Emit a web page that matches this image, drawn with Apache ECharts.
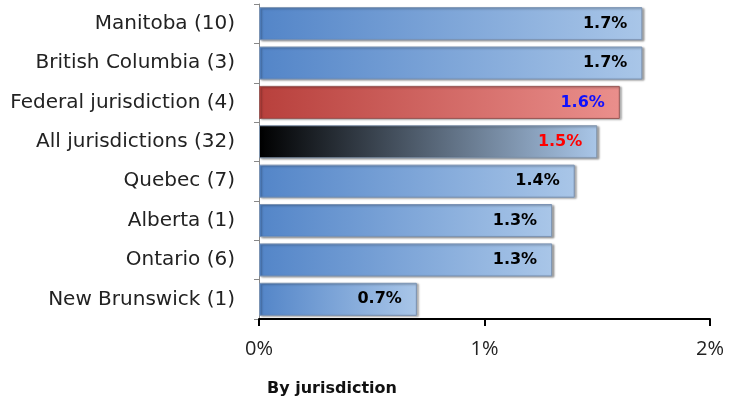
<!DOCTYPE html>
<html>
<head>
<meta charset="utf-8">
<style>
  html, body { margin: 0; padding: 0; background: #fff; }
  #chart { width: 729px; height: 402px; }
</style>
<script src="https://cdn.jsdelivr.net/npm/echarts@6/dist/echarts.min.js"></script>
</head>
<body>
<div id="chart"></div>
<script>
// Jurisdictions, top to bottom, with number of settlements in brackets
const categories = [
  'Manitoba (10)',
  'British Columbia (3)',
  'Federal jurisdiction (4)',
  'All jurisdictions (32)',
  'Quebec (7)',
  'Alberta (1)',
  'Ontario (6)',
  'New Brunswick (1)'
];
// Average increase, percent
const values = [1.7, 1.7, 1.6, 1.5, 1.4, 1.3, 1.3, 0.7];
const xTicks = [0, 1, 2];
const axisTitle = 'By jurisdiction';

function grad(c0, c1) {
  return new echarts.graphic.LinearGradient(0, 0, 1, 0, [
    { offset: 0, color: c0 },
    { offset: 1, color: c1 }
  ]);
}
const styles = {
  'Federal jurisdiction (4)': { fill: grad('#b8403c', '#ea8f8c'), border: '#9a5a58', label: '#1010ff' },
  'All jurisdictions (32)': { fill: grad('#000000', '#a9c6e8'), border: '#7f93ab', label: '#ff0000' }
};
const defaultStyle = { fill: grad('#5385c8', '#a9c6e8'), border: '#7b93b3', label: '#000000' };

const data = categories.map((c, i) => {
  const s = styles[c] || defaultStyle;
  return {
    value: values[i],
    itemStyle: { color: s.fill, borderColor: s.border, borderWidth: 1 },
    label: { color: s.label }
  };
});

const chart = echarts.init(document.getElementById('chart'));
chart.setOption({
  animation: false,
  grid: { left: 259, right: 19, top: 4, bottom: 83 },
  xAxis: {
    type: 'value',
    min: 0, max: 2, interval: 1,
    axisLine: { show: true, lineStyle: { color: '#000', width: 2 } },
    axisTick: { show: true, length: 7, lineStyle: { color: '#000', width: 2 }, inside: false },
    splitLine: { show: false },
    axisLabel: {
      formatter: v => xTicks.includes(v) ? v + '%' : '',
      fontFamily: 'Open Sans', fontSize: 20, color: '#222', margin: 20
    },
    name: axisTitle,
    nameLocation: 'start',
    nameGap: 0,
    nameTextStyle: {
      fontFamily: 'DejaVu Sans', fontWeight: 'bold', fontSize: 16, color: '#111',
      align: 'left', verticalAlign: 'top', padding: [62, 0, 0, 8]
    }
  },
  yAxis: {
    type: 'category',
    data: categories,
    inverse: true,
    axisLine: { show: true, lineStyle: { color: '#888', width: 1 } },
    axisTick: { show: true, length: 5, lineStyle: { color: '#888' } },
    axisLabel: { fontFamily: 'DejaVu Sans', fontSize: 20, color: '#222', margin: 24 }
  },
  series: [{
    type: 'bar',
    data: data,
    barCategoryGap: '16%',
    itemStyle: { shadowColor: 'rgba(0,0,0,0.35)', shadowBlur: 2, shadowOffsetX: 2, shadowOffsetY: 1 },
    label: {
      show: true,
      position: 'insideRight',
      distance: 15,
      formatter: p => p.value.toFixed(1) + '%',
      fontFamily: 'DejaVu Sans', fontWeight: 'bold', fontSize: 16
    }
  }]
});
</script>
</body>
</html>
